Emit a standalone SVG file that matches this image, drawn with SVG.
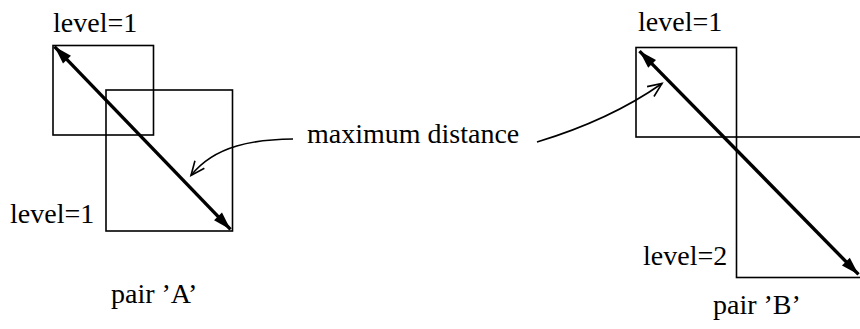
<svg xmlns="http://www.w3.org/2000/svg" width="860" height="329" viewBox="0 0 860 329">
<style>
.box{fill:none;stroke:#000;stroke-width:1.6}
.thick{fill:none;stroke:#000;stroke-width:3.4;marker-start:url(#fill);marker-end:url(#fill)}
.thin{fill:none;stroke:#000;stroke-width:1.6;marker-end:url(#open)}
text{font-family:"Liberation Serif","Times New Roman",serif;font-size:28px;fill:#000}
</style>
<defs>
<marker id="fill" markerUnits="userSpaceOnUse" markerWidth="22" markerHeight="14" refX="18" refY="5.5" orient="auto-start-reverse" overflow="visible">
<path d="M0,0 L18,5.5 L0,11 z" fill="#000"/>
</marker>
<marker id="open" markerUnits="userSpaceOnUse" markerWidth="16" markerHeight="14" refX="14" refY="6" orient="auto" overflow="visible">
<path d="M0,0 L14,6 L0,12" fill="none" stroke="#000" stroke-width="1.6"/>
</marker>
</defs>
<g id="pairA">
<g id="A-box1"><rect class="box" x="53" y="45.5" width="100.5" height="89.5"/></g>
<g id="A-box2"><rect class="box" x="106" y="90" width="126.5" height="141"/></g>
<text x="53" y="31.5">level=1</text>
<text x="10" y="223">level=1</text>
<text x="111" y="303">pair ’A’</text>
</g>
<g id="pairB">
<g id="B-box1"><rect class="box" x="636" y="47.5" width="100.5" height="89.5"/></g>
<g id="B-box2"><rect class="box" x="736.5" y="137" width="140" height="140.5"/></g>
<text x="638" y="30.5">level=1</text>
<text x="643" y="265">level=2</text>
<text x="713" y="314">pair ’B’</text>
</g>
<g id="label"><text x="307" y="143">maximum distance</text></g>
<g id="connectors">
<path class="thick" d="M54.5,46.6 L230.5,229.4"/>
<path class="thick" d="M639.5,51.1 L858.5,274.4"/>
<path class="thin" d="M293,139 C255,139.5 215,145 191,175.5"/>
<path class="thin" d="M537,142 Q610,120 662,83.5"/>
</g>
</svg>
